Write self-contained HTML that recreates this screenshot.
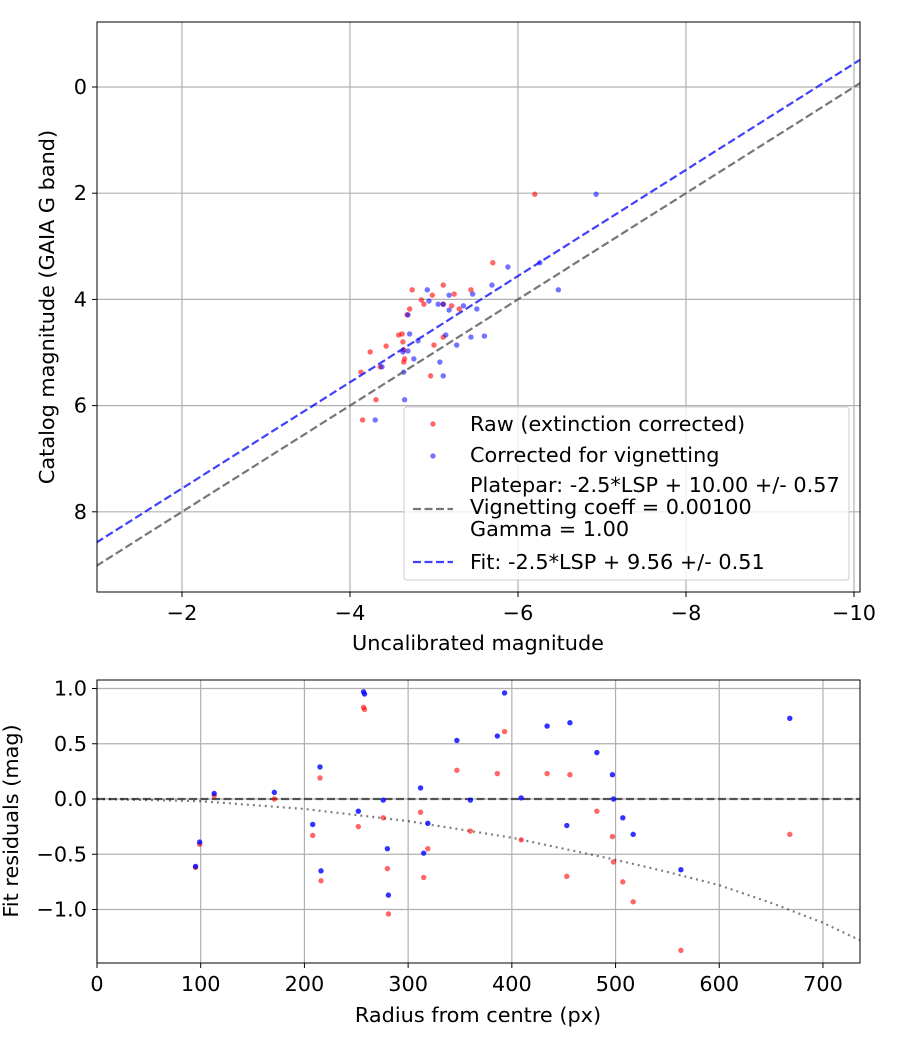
<!DOCTYPE html>
<html><head><meta charset="utf-8"><style>
body{margin:0;background:#fff}
svg text{font-family:"DejaVu Sans","Liberation Sans",sans-serif;font-size:20.8px;fill:#000}
</style></head><body>
<svg id="svg" width="900" height="1050" xmlns="http://www.w3.org/2000/svg"></svg>
<script>
const topRawX=[-6.20,-5.70,-4.74,-5.11,-4.98,-5.24,-5.44,-4.85,-4.88,-5.11,-5.21,-5.30,-4.71,-4.68,-4.58,-4.62,-4.63,-5.11,-5.00,-4.24,-4.43,-4.64,-4.65,-4.64,-4.36,-4.13,-4.96,-4.31,-4.15];
const topRawY=[2.02,3.31,3.82,3.73,3.92,3.90,3.82,4.01,4.09,4.09,4.12,4.18,4.18,4.29,4.67,4.65,4.80,4.71,4.86,4.99,4.88,4.95,5.12,5.18,5.27,5.37,5.44,5.89,6.27];
const topCorX=[-6.93,-6.26,-5.88,-5.69,-6.48,-4.92,-5.46,-5.18,-4.94,-5.05,-5.11,-5.35,-5.51,-5.18,-4.69,-4.71,-5.14,-4.81,-5.44,-5.60,-4.69,-4.63,-5.27,-4.76,-5.07,-4.38,-4.64,-5.11,-4.65,-4.30];
const topCorY=[2.02,3.31,3.39,3.73,3.82,3.82,3.90,3.92,4.03,4.09,4.09,4.12,4.18,4.20,4.29,4.65,4.67,4.78,4.71,4.69,4.97,4.99,4.86,5.12,5.18,5.27,5.37,5.44,5.89,6.27];
const fitZeroPoints=[10.00,9.56];
const topXTicks=[-2,-4,-6,-8,-10];
const topYTicks=[0,2,4,6,8];
const radius=[95,99,113,171,208,215,216,252,257,258,276,280,281,312,315,319,347,360,386,393,409,434,453,456,482,497,498,507,517,563,668];
const resRaw=[-0.62,-0.41,0.03,0.0,-0.33,0.19,-0.74,-0.25,0.83,0.81,-0.17,-0.63,-1.04,-0.12,-0.71,-0.45,0.26,-0.29,0.23,0.61,-0.37,0.23,-0.70,0.22,-0.11,-0.34,-0.57,-0.75,-0.93,-1.37,-0.32];
const resCor=[-0.61,-0.39,0.05,0.06,-0.23,0.29,-0.65,-0.11,0.97,0.95,-0.01,-0.45,-0.87,0.10,-0.49,-0.22,0.53,-0.01,0.57,0.96,0.01,0.66,-0.24,0.69,0.42,0.22,0.0,-0.17,-0.32,-0.64,0.73];
const vigR=[0,100,200,300,400,500,550,600,650,700,736];
const vigV=[0,-0.02,-0.09,-0.2,-0.35,-0.55,-0.66,-0.78,-0.94,-1.12,-1.28];
const botXTicks=[0,100,200,300,400,500,600,700];
const botYTicks=[-1.0,-0.5,0.0,0.5,1.0];

const NS="http://www.w3.org/2000/svg",svg=document.getElementById('svg');
function el(t,a,p){const e=document.createElementNS(NS,t);for(const k in a)e.setAttribute(k,a[k]);(p||svg).appendChild(e);return e;}
const T={l:97,r:860,t:22,b:592};
const tx=v=>182+(-2-v)*84, ty=v=>87+v*53.1;
const gTop=el('g',{});


const cp=el('clipPath',{id:'c1'});el('rect',{x:T.l,y:T.t,width:T.r-T.l,height:T.b-T.t},cp);
topXTicks.forEach(v=>{const x=tx(v);el('line',{x1:x,x2:x,y1:T.t,y2:T.b,stroke:'#b0b0b0','stroke-width':1.2},gTop);el('line',{x1:x,x2:x,y1:T.b,y2:T.b+5,stroke:'#000'},gTop);
 const t=el('text',{x:x,y:T.b+28,'text-anchor':'middle'},gTop);t.textContent='\u2212'+Math.abs(v);
 });
topYTicks.forEach(v=>{const y=ty(v);el('line',{x1:T.l,x2:T.r,y1:y,y2:y,stroke:'#b0b0b0','stroke-width':1.2},gTop);el('line',{x1:T.l-5,x2:T.l,y1:y,y2:y,stroke:'#000'},gTop);
 const t=el('text',{x:T.l-10,y:y+7,'text-anchor':'end'},gTop);t.textContent=v;
 });
const gp=el('g',{'clip-path':'url(#c1)'},gTop);
topRawX.forEach((v,i)=>{const c=el('circle',{cx:tx(v),cy:ty(topRawY[i]),r:2.7,fill:'#ff0000','fill-opacity':0.6},gp);
 });
topCorX.forEach((v,i)=>{const c=el('circle',{cx:tx(v),cy:ty(topCorY[i]),r:2.7,fill:'#0000ff','fill-opacity':0.55},gp);
 });
[['#555',0.8],['#0000ff',0.75]].forEach((s,i)=>{const z=fitZeroPoints[i];
 const l=el('line',{x1:tx(-0.98),y1:ty(-0.98+z),x2:tx(-10.1),y2:ty(-10.1+z),stroke:s[0],'stroke-opacity':s[1],'stroke-width':2.2,'stroke-dasharray':'8,3.5'},gp);
 });
el('rect',{x:T.l,y:T.t,width:T.r-T.l,height:T.b-T.t,fill:'none',stroke:'#000','stroke-width':1},gTop);
let t=el('text',{x:478,y:650,'text-anchor':'middle'});t.textContent='Uncalibrated magnitude';
t=el('text',{x:0,y:0,'text-anchor':'middle',transform:'translate(54,307) rotate(-90)'});t.textContent='Catalog magnitude (GAIA G band)';
const lg=el('g',{});
el('rect',{x:404,y:407,width:445,height:173,rx:3,fill:'#fff','fill-opacity':0.8,stroke:'#ccc'},lg);
el('circle',{cx:433,cy:424,r:2.7,fill:'#f00','fill-opacity':0.6},lg);
el('circle',{cx:433,cy:456,r:2.7,fill:'#00f','fill-opacity':0.55},lg);
el('line',{x1:413,x2:453,y1:509,y2:509,stroke:'#555','stroke-opacity':0.8,'stroke-width':2.2,'stroke-dasharray':'8,3.5'},lg);
el('line',{x1:413,x2:453,y1:562,y2:562,stroke:'#00f','stroke-opacity':0.75,'stroke-width':2.2,'stroke-dasharray':'8,3.5'},lg);
[['Raw (extinction corrected)',431],['Corrected for vignetting',462],['Platepar: -2.5*LSP + 10.00 +/- 0.57',492],['Vignetting coeff = 0.00100',514],['Gamma = 1.00',536],['Fit: -2.5*LSP + 9.56 +/- 0.51',569]].forEach(a=>{const e=el('text',{x:470,y:a[1]},lg);e.textContent=a[0];});
const B={l:97,r:860,t:680,b:963};
const bx=v=>97+v*1.0371, by=v=>799-v*110.5;
const gB=el('g',{});
const cp2=el('clipPath',{id:'c2'});el('rect',{x:B.l,y:B.t,width:B.r-B.l,height:B.b-B.t},cp2);
botXTicks.forEach(v=>{const x=bx(v);el('line',{x1:x,x2:x,y1:B.t,y2:B.b,stroke:'#b0b0b0','stroke-width':1.2},gB);el('line',{x1:x,x2:x,y1:B.b,y2:B.b+5,stroke:'#000'},gB);
 const e=el('text',{x:x,y:B.b+28,'text-anchor':'middle'},gB);e.textContent=v;});
botYTicks.forEach(v=>{const y=by(v);el('line',{x1:B.l,x2:B.r,y1:y,y2:y,stroke:'#b0b0b0','stroke-width':1.2},gB);el('line',{x1:B.l-5,x2:B.l,y1:y,y2:y,stroke:'#000'},gB);
 const e=el('text',{x:B.l-10,y:y+7,'text-anchor':'end'},gB);e.textContent=(v<0?'\u2212':'')+Math.abs(v).toFixed(1);});
const gq=el('g',{'clip-path':'url(#c2)'},gB);
let zl=el('line',{x1:B.l,x2:B.r,y1:by(0),y2:by(0),stroke:'#000','stroke-opacity':0.6,'stroke-width':2.2,'stroke-dasharray':'8,3.5'},gq);

let vp=el('polyline',{points:vigR.map((r,i)=>bx(r)+','+by(vigV[i])).join(' '),fill:'none',stroke:'#000','stroke-opacity':0.5,'stroke-width':2.2,'stroke-dasharray':'2,4'},gq);

radius.forEach((r,i)=>{let c=el('circle',{cx:bx(r),cy:by(resRaw[i]),r:2.7,fill:'#f00','fill-opacity':0.6},gq);
 
 c=el('circle',{cx:bx(r),cy:by(resCor[i]),r:2.7,fill:'#00f','fill-opacity':0.8},gq);
 });
el('rect',{x:B.l,y:B.t,width:B.r-B.l,height:B.b-B.t,fill:'none',stroke:'#000','stroke-width':1},gB);
t=el('text',{x:478,y:1022,'text-anchor':'middle'});t.textContent='Radius from centre (px)';
t=el('text',{x:0,y:0,'text-anchor':'middle',transform:'translate(18,821) rotate(-90)'});t.textContent='Fit residuals (mag)';
</script>
</body></html>
